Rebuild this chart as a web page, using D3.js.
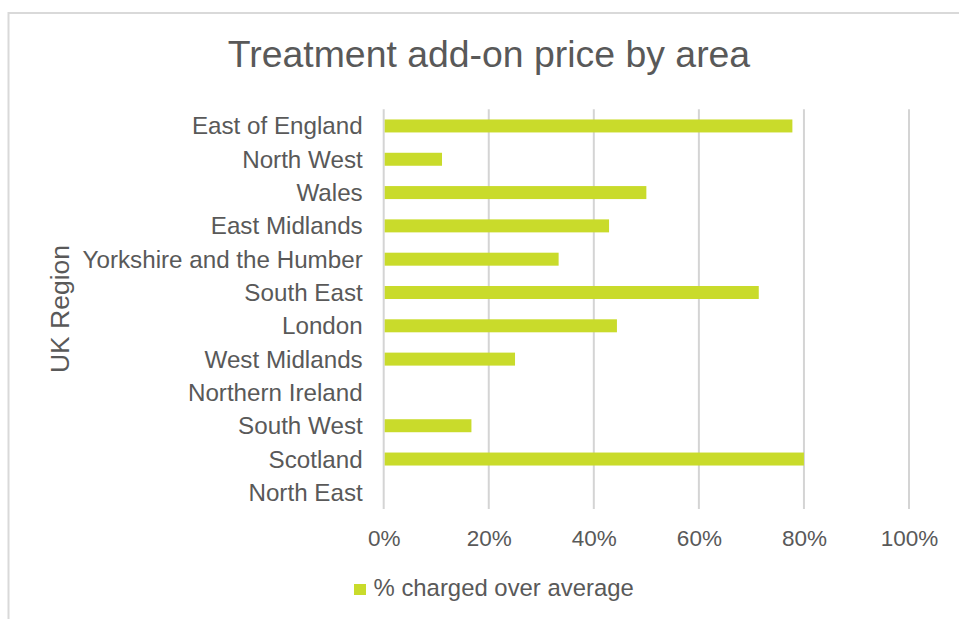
<!DOCTYPE html>
<html>
<head>
<meta charset="utf-8">
<script src="https://cdn.jsdelivr.net/npm/d3@7"></script>
<style>
  body { margin: 0; background: #fff; }
  text { font-family: "Liberation Sans", Arial, sans-serif; fill: #595959; }
</style>
</head>
<body>
<div id="vis"></div>
<script>
const FRAME_WIDTH = 959;
const FRAME_HEIGHT = 619;
const PLOT = {left: 383.7, right: 909, top: 109.3, bottom: 509};

// data
const REGIONS = ["East of England", "North West", "Wales", "East Midlands",
    "Yorkshire and the Humber", "South East", "London", "West Midlands",
    "Northern Ireland", "South West", "Scotland", "North East"];
const CHARGED_OVER_AVG = [0.778, 0.111, 0.5, 0.429, 0.333, 0.714, 0.444, 0.25, 0, 0.167, 0.8, 0];
const X_TICKS = [0, 0.2, 0.4, 0.6, 0.8, 1.0];
const SERIES_NAME = "% charged over average";

const BAR_COLOR = "#c9db2b";
const GRID_COLOR = "#d9d9d9";

const data = REGIONS.map((r, i) => ({region: r, value: CHARGED_OVER_AVG[i]}));

const FRAME = d3.select("#vis")
    .append("svg")
    .attr("width", FRAME_WIDTH)
    .attr("height", FRAME_HEIGHT);

// chart border (runs off the right and bottom edge)
FRAME.append("rect")
    .attr("x", 8.5).attr("y", 13)
    .attr("width", 1000).attr("height", 700)
    .attr("fill", "none")
    .attr("stroke", GRID_COLOR)
    .attr("stroke-width", 2);

const X_SCALE = d3.scaleLinear()
    .domain([0, 1])
    .range([PLOT.left, PLOT.right]);

const Y_SCALE = d3.scaleBand()
    .domain(REGIONS)
    .range([PLOT.top, PLOT.bottom])
    .paddingInner(0.61)
    .paddingOuter(0.305);

// gridlines
FRAME.selectAll(".grid")
    .data(X_TICKS)
    .enter()
    .append("line")
    .attr("x1", d => X_SCALE(d))
    .attr("x2", d => X_SCALE(d))
    .attr("y1", PLOT.top)
    .attr("y2", PLOT.bottom)
    .attr("stroke", "#d4d4d4")
    .attr("stroke-width", 2);

// bars
FRAME.selectAll(".bar")
    .data(data.filter(d => d.value > 0))
    .enter()
    .append("rect")
    .attr("x", X_SCALE(0) + 1)
    .attr("y", d => Y_SCALE(d.region))
    .attr("width", d => X_SCALE(d.value) - X_SCALE(0) - 1)
    .attr("height", Y_SCALE.bandwidth())
    .attr("fill", BAR_COLOR);

// x axis labels
const xAxis = FRAME.append("g")
    .attr("transform", "translate(0," + PLOT.bottom + ")")
    .call(d3.axisBottom(X_SCALE).tickValues(X_TICKS).tickSize(0).tickFormat(d3.format(".0%")));
xAxis.select(".domain").remove();
xAxis.selectAll("text")
    .attr("y", 37)
    .attr("dy", 0)
    .attr("font-size", 22.5)
    .attr("fill", "#595959")
    .style("font-family", "Liberation Sans, Arial, sans-serif");

// y axis labels
const yAxis = FRAME.append("g")
    .attr("transform", "translate(" + PLOT.left + ",0)")
    .call(d3.axisLeft(Y_SCALE).tickSize(0).tickPadding(21));
yAxis.select(".domain").remove();
yAxis.selectAll("text")
    .attr("dy", "0.35em")
    .attr("font-size", 24.2)
    .attr("fill", "#595959")
    .style("font-family", "Liberation Sans, Arial, sans-serif");

// title
FRAME.append("text")
    .attr("x", 489)
    .attr("y", 66.5)
    .attr("text-anchor", "middle")
    .attr("font-size", 37.4)
    .text("Treatment add-on price by area");

// axis title
FRAME.append("text")
    .attr("transform", "translate(69,309) rotate(-90)")
    .attr("text-anchor", "middle")
    .attr("font-size", 26.5)
    .text("UK Region");

// legend
FRAME.append("rect")
    .attr("x", 354).attr("y", 584)
    .attr("width", 12).attr("height", 11)
    .attr("fill", BAR_COLOR);
FRAME.append("text")
    .attr("x", 373.5)
    .attr("y", 596)
    .attr("font-size", 23.9)
    .text(SERIES_NAME);
</script>
</body>
</html>
